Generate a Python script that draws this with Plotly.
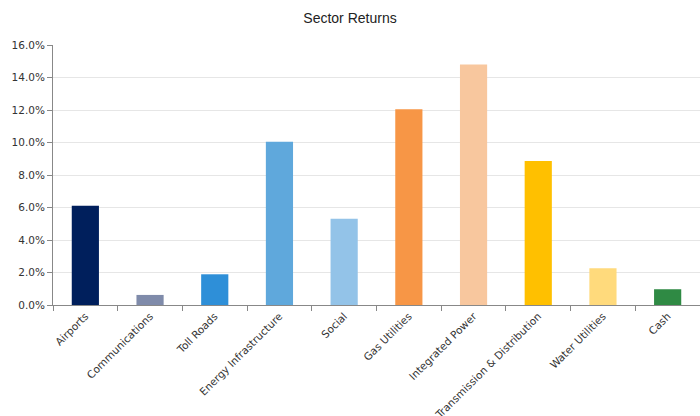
import plotly.graph_objects as go

categories = ["Airports", "Communications", "Toll Roads", "Energy Infrastructure", "Social",
              "Gas Utilities", "Integrated Power", "Transmission & Distribution",
              "Water Utilities", "Cash"]
returns = [0.0611, 0.0062, 0.0189, 0.1005, 0.0531, 0.1204, 0.1480, 0.0886, 0.0226, 0.0097]
colors = ["#001F5C", "#7F8BAA", "#2E8FD8", "#5FA8DC", "#93C3E8",
          "#F79646", "#F8C79E", "#FFC000", "#FFDA7C", "#2F8A44"]
y_ticks = [0, 0.02, 0.04, 0.06, 0.08, 0.10, 0.12, 0.14, 0.16]

fig = go.Figure(go.Bar(x=categories, y=returns, marker=dict(color=colors, line=dict(width=0)),
                       width=0.42))

fig.update_layout(
    width=700, height=416,
    margin=dict(l=53, r=0, t=45, b=111),
    plot_bgcolor="white", paper_bgcolor="white",
    title=dict(text="Sector Returns", x=0.5, xanchor="center", y=0.957, yanchor="middle",
               font=dict(family="Liberation Sans, Arial", size=14, color="#222")),
    font=dict(family="DejaVu Sans, Verdana", size=10.5, color="#333"),
    showlegend=False,
    bargap=0.58,
)
fig.update_xaxes(tickangle=-45, showline=True, linecolor="#888", linewidth=1,
                 ticks="outside", tickson="boundaries", ticklen=5, tickcolor="#888",
                 showgrid=False, range=[-0.5, 9.5], automargin=False)
fig.update_yaxes(range=[0, 0.16], tickvals=y_ticks, tickformat=".1%",
                 showline=True, linecolor="#888", linewidth=1,
                 ticks="outside", ticklen=5, tickcolor="#888", automargin=False,
                 showgrid=True, gridcolor="#E6E6E6", zeroline=False)

fig.write_html("out.html")
